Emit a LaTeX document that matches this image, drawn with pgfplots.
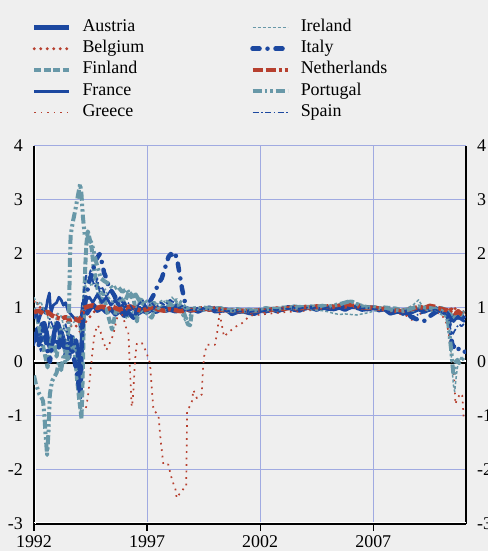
\documentclass[border=0pt]{standalone}
\usepackage{pgfplots}
\pgfplotsset{compat=1.18}
\usepackage{fontspec}
\setmainfont{Liberation Serif}
\definecolor{bg}{RGB}{239,239,239}
\definecolor{cblue}{RGB}{28,72,160}
\definecolor{cred}{RGB}{183,64,47}
\definecolor{cteal}{RGB}{104,152,168}
\definecolor{gridc}{RGB}{160,170,225}
\pgfplotsset{
 stAT/.style={cblue, line width=4.5bp},
 stBE/.style={cred, line width=3.2bp, line cap=round, dash pattern=on 0bp off 6.5bp},
 stFI/.style={cteal, line width=4bp, dash pattern=on 7bp off 2.5bp},
 stFR/.style={cblue, line width=2.7bp},
 stGR/.style={cred, line width=1.7bp, dash pattern=on 1.7bp off 4.8bp},
 stIE/.style={cteal, line width=1.5bp, dash pattern=on 3bp off 2bp},
 stIT/.style={cblue, line width=4.5bp, line cap=round, dash pattern=on 7bp off 8bp on 0bp off 8bp},
 stNL/.style={cred, line width=4.5bp, dash pattern=on 10bp off 3bp on 10bp off 3bp on 3bp off 3bp},
 stPT/.style={cteal, line width=4bp, dash pattern=on 9bp off 3bp on 2.5bp off 3bp on 2.5bp off 3bp},
 stES/.style={cblue, line width=1.7bp, dash pattern=on 6bp off 2.5bp on 1.5bp off 2.5bp},
}
\begin{document}
\begin{tikzpicture}
\fill[bg] (-34bp,-27bp) rectangle (454bp,524bp);
\begin{axis}[
  scale only axis, width=432bp, height=378bp,
  at={(0,0)}, anchor=south west,
  xmin=1992, xmax=2011.1, ymin=-3, ymax=4,
  axis x line*=bottom, axis y line*=box,
  axis line style={black, line width=1.3bp},
  xtick={1992,1997,2002,2007}, xticklabels={1992,1997,2002,2007},
  ytick={-3,-2,-1,0,1,2,3,4}, yticklabels={-3,-2,-1,0,1,2,3,4},
  tick align=outside, major tick length=7bp,
  ytick style={draw=none},
  xtick style={black, line width=1.3bp},
  grid=major, grid style={gridc, line width=1bp},
  tick label style={font=\fontsize{18}{21}\selectfont, text=black},
  yticklabel style={inner sep=0pt, xshift=-4bp},
  xticklabel style={inner sep=0pt, anchor=north, yshift=-4bp},
  every axis plot/.append style={line join=round, no markers},
  legend columns=2, legend cell align=left,
  legend image code/.code={\draw[#1] (0bp,0bp) -- (35bp,0bp);},
  legend style={draw=none, fill=none, inner sep=0pt, outer sep=0pt,
    at={(axis description cs:-0.00463,1.3348)}, anchor=north west,
    row sep=5.25bp, font=\fontsize{18}{21}\selectfont,
    nodes={inner sep=0pt, text height=12bp, text depth=4bp},
    /tikz/every odd column/.append style={column sep=11bp},
    /tikz/every even column/.append style={column sep=106bp}},
]
\draw[white, line width=1.7bp] ([xshift=1.6bp]rel axis cs:0,0) -- ([xshift=1.6bp]rel axis cs:0,1);
\draw[white, line width=1.7bp] ([yshift=1.6bp]rel axis cs:0,0) -- ([yshift=1.6bp]rel axis cs:1,0);
\draw[white, line width=2.2bp] ([yshift=0.8bp]axis cs:1992,0) -- ([yshift=0.8bp]axis cs:2011.1,0);
\draw[black, line width=1.6bp] ([yshift=-1.2bp]axis cs:1992,0) -- ([yshift=-1.2bp]axis cs:2011.1,0);

% Austria
\addplot[stAT, forget plot] coordinates {
(1992.00,0.55)(1992.08,0.40)(1992.15,0.62)(1992.25,0.50)(1992.35,0.70)(1992.45,0.72)(1992.55,0.55)(1992.65,0.35)(1992.75,0.20)(1992.85,0.45)(1992.95,0.65)(1993.05,0.72)(1993.15,0.60)(1993.25,0.50)(1993.35,0.35)(1993.45,0.20)(1993.55,0.08)(1993.62,0.35)(1993.70,0.45)(1993.78,0.25)(1993.86,0.40)(1993.94,0.15)(1994.00,-0.35)(1994.04,-0.65)(1994.08,-0.30)(1994.12,0.40)(1994.18,0.85)(1994.25,0.95)(1994.35,0.90)(1994.50,1.00)(1994.65,1.05)(1994.80,0.95)(1995.00,1.00)(1995.20,0.92)(1995.40,0.98)(1995.60,0.88)(1995.80,0.95)(1996.00,0.85)(1996.20,0.90)(1996.40,0.82)(1996.60,0.90)(1996.80,0.95)(1997.00,0.92)(1997.20,0.97)(1997.40,0.93)(1997.60,0.98)(1997.80,0.95)(1998.00,0.97)(1998.25,0.94)(1998.50,0.96)(1998.75,0.98)
(1999.00,0.98)(1999.25,0.935)(1999.50,0.98)(1999.75,1.005)(2000.00,0.94)(2000.25,0.95)(2000.50,0.97)(2000.75,0.89)(2001.00,0.93)(2001.25,0.94)(2001.50,0.91)(2001.75,0.895)(2002.00,0.95)(2002.25,0.94)(2002.50,0.98)(2002.75,0.94)(2003.00,0.98)(2003.25,1.015)(2003.50,0.97)(2003.75,0.955)(2004.00,1.01)(2004.25,1.0)(2004.50,0.97)(2004.75,1.02)(2005.00,0.99)(2005.25,0.98)(2005.50,1.01)(2005.75,0.97)(2006.00,1.02)(2006.25,1.02)(2006.50,0.97)(2006.75,0.985)(2007.00,1.01)(2007.25,0.96)(2007.50,0.98)(2007.75,0.90)(2008.00,0.93)(2008.25,0.945)(2008.50,0.89)(2008.75,0.935)(2009.00,0.98)(2009.25,0.935)(2009.50,0.98)(2009.75,0.995)(2010.00,0.94)(2010.25,0.89)
(2010.35,0.85)(2010.45,0.78)(2010.55,0.84)(2010.65,0.88)(2010.75,0.82)(2010.85,0.87)(2010.95,0.83)(2011.05,0.80)};
% Belgium
\addplot[stBE, forget plot] coordinates {
(1992.00,1.12)(1992.10,1.05)(1992.20,1.10)(1992.30,0.98)(1992.40,0.92)(1992.50,0.95)(1992.60,0.88)(1992.70,0.82)(1992.80,0.86)(1992.90,0.90)(1993.00,0.87)(1993.20,0.84)(1993.40,0.80)(1993.60,0.66)(1993.80,0.70)(1993.95,0.62)(1994.05,0.55)(1994.15,0.66)(1994.30,0.75)(1994.50,0.85)(1994.70,0.95)(1994.90,1.02)(1995.10,1.05)(1995.30,0.98)(1995.50,1.03)(1995.70,0.96)(1995.90,1.01)(1996.10,0.95)(1996.30,1.00)(1996.50,1.05)(1996.70,1.00)(1996.90,0.95)(1997.10,1.00)(1997.30,1.04)(1997.50,0.98)(1997.70,1.02)(1997.90,0.97)(1998.10,1.01)(1998.30,0.99)(1998.50,1.03)(1998.75,0.98)
(1999.00,1.0)(1999.25,0.975)(1999.50,0.96)(1999.75,0.995)(2000.00,1.01)(2000.25,0.95)(2000.50,0.97)(2000.75,0.97)(2001.00,0.92)(2001.25,0.96)(2001.50,0.94)(2001.75,0.975)(2002.00,0.96)(2002.25,0.94)(2002.50,0.98)(2002.75,1.0)(2003.00,0.98)(2003.25,1.005)(2003.50,0.97)(2003.75,1.005)(2004.00,1.03)(2004.25,1.02)(2004.50,1.04)(2004.75,0.99)(2005.00,1.02)(2005.25,1.05)(2005.50,1.03)(2005.75,1.03)(2006.00,1.06)(2006.25,1.02)(2006.50,1.03)(2006.75,0.985)(2007.00,1.01)(2007.25,1.01)(2007.50,0.98)(2007.75,0.99)(2008.00,0.95)(2008.25,0.925)(2008.50,0.97)(2008.75,0.975)(2009.00,0.98)(2009.25,1.015)(2009.50,1.0)(2009.75,1.025)(2010.00,1.0)(2010.25,0.97)
(2010.35,0.95)(2010.45,0.90)(2010.55,0.96)(2010.65,1.00)(2010.75,0.93)(2010.85,0.97)(2010.95,0.92)(2011.05,0.95)};
% Finland
\addplot[stFI, forget plot] coordinates {
(1992.00,1.00)(1992.10,0.90)(1992.20,0.70)(1992.30,0.50)(1992.40,0.30)(1992.50,0.10)(1992.60,-0.10)(1992.70,0.20)(1992.80,0.50)(1992.90,0.30)(1993.00,0.10)(1993.10,0.40)(1993.20,0.60)(1993.30,0.35)(1993.40,0.15)(1993.50,0.05)(1993.60,0.30)(1993.70,0.50)(1993.80,0.20)(1993.90,-0.30)(1994.00,-0.70)(1994.06,-0.90)(1994.10,-1.05)(1994.14,-0.50)(1994.18,0.30)(1994.22,1.20)(1994.27,1.80)(1994.32,2.20)(1994.38,2.42)(1994.45,2.30)(1994.55,2.10)(1994.65,1.70)(1994.75,1.50)(1994.85,1.25)(1994.95,1.10)(1995.05,1.30)(1995.15,1.10)(1995.25,0.90)(1995.35,0.75)(1995.45,0.60)(1995.55,0.80)(1995.65,1.00)(1995.80,1.20)(1996.00,1.10)(1996.20,1.30)(1996.40,1.20)(1996.55,0.75)(1996.70,1.20)(1996.85,1.05)(1997.00,0.90)(1997.20,0.82)(1997.40,1.00)(1997.60,1.05)(1997.80,0.95)(1998.00,1.08)(1998.20,1.02)(1998.40,1.10)(1998.60,0.95)(1998.80,0.70)(1998.90,0.68)
(1999.00,0.98)(1999.25,1.005)(1999.50,0.97)(1999.75,0.975)(2000.00,0.99)(2000.25,1.0)(2000.50,0.96)(2000.75,0.97)(2001.00,0.98)(2001.25,0.95)(2001.50,0.97)(2001.75,0.945)(2002.00,0.97)(2002.25,1.0)(2002.50,0.98)(2002.75,0.97)(2003.00,1.01)(2003.25,0.995)(2003.50,1.03)(2003.75,1.015)(2004.00,1.01)(2004.25,1.03)(2004.50,1.0)(2004.75,1.04)(2005.00,1.02)(2005.25,1.03)(2005.50,1.05)(2005.75,1.09)(2006.00,1.12)(2006.25,1.07)(2006.50,1.04)(2006.75,1.015)(2007.00,1.02)(2007.25,0.99)(2007.50,1.01)(2007.75,1.0)(2008.00,0.99)(2008.25,0.955)(2008.50,0.97)(2008.75,0.965)(2009.00,1.01)(2009.25,1.005)(2009.50,1.03)(2009.75,0.995)(2010.00,1.0)(2010.25,0.96)
(2010.35,0.92)(2010.45,0.85)(2010.55,0.80)(2010.65,0.85)(2010.75,0.90)(2010.85,0.86)(2010.95,0.92)(2011.05,0.90)};
% France
\addplot[stFR, forget plot] coordinates {
(1992.00,0.80)(1992.10,0.95)(1992.20,0.75)(1992.30,0.88)(1992.40,1.00)(1992.50,0.90)(1992.60,1.15)(1992.68,1.28)(1992.75,0.90)(1992.85,1.05)(1993.00,1.10)(1993.10,1.20)(1993.20,1.15)(1993.30,1.05)(1993.40,1.10)(1993.50,0.95)(1993.60,0.90)(1993.70,0.85)(1993.80,0.80)(1993.90,0.82)(1994.00,0.78)(1994.05,0.60)(1994.10,0.90)(1994.15,1.10)(1994.20,1.00)(1994.30,1.15)(1994.45,1.20)(1994.60,1.10)(1994.80,1.25)(1995.00,1.10)(1995.20,1.20)(1995.40,1.05)(1995.60,1.15)(1995.80,1.00)(1996.00,1.10)(1996.20,0.95)(1996.40,1.00)(1996.60,0.92)(1996.80,1.00)(1997.00,0.95)(1997.25,1.00)(1997.50,0.96)(1997.75,1.02)(1998.00,0.98)(1998.25,1.03)(1998.50,0.97)(1998.75,1.00)
(1999.00,0.97)(1999.25,0.995)(1999.50,0.99)(1999.75,0.955)(2000.00,1.0)(2000.25,0.97)(2000.50,0.95)(2000.75,0.96)(2001.00,0.94)(2001.25,0.92)(2001.50,0.95)(2001.75,0.935)(2002.00,0.95)(2002.25,0.97)(2002.50,0.95)(2002.75,0.98)(2003.00,1.0)(2003.25,0.985)(2003.50,1.02)(2003.75,1.005)(2004.00,0.99)(2004.25,1.02)(2004.50,1.01)(2004.75,1.0)(2005.00,1.02)(2005.25,0.98)(2005.50,1.01)(2005.75,1.01)(2006.00,1.01)(2006.25,1.03)(2006.50,1.01)(2006.75,1.025)(2007.00,0.99)(2007.25,1.0)(2007.50,0.98)(2007.75,0.97)(2008.00,0.93)(2008.25,0.935)(2008.50,0.95)(2008.75,0.965)(2009.00,0.97)(2009.25,0.985)(2009.50,0.97)(2009.75,0.995)(2010.00,0.97)(2010.25,0.93)
(2010.35,0.88)(2010.45,0.80)(2010.55,0.75)(2010.65,0.80)(2010.75,0.85)(2010.85,0.80)(2010.95,0.77)(2011.05,0.75)};
% Greece
\addplot[stGR, forget plot] coordinates {
(1994.30,-0.85)(1994.38,-0.65)(1994.46,-0.35)(1994.55,0.05)(1994.65,0.45)(1994.75,0.62)(1994.83,0.68)(1994.95,0.55)(1995.05,0.40)(1995.20,0.22)(1995.35,0.35)(1995.50,0.50)(1995.62,0.72)(1995.72,0.88)(1995.82,0.95)(1995.95,0.82)(1996.08,0.62)(1996.17,0.55)(1996.22,0.10)(1996.27,-0.40)(1996.32,-0.83)(1996.37,-0.70)(1996.43,-0.25)(1996.49,0.15)(1996.55,0.35)(1996.77,0.35)(1996.95,0.20)(1997.13,-0.02)(1997.20,-0.45)(1997.28,-0.89)(1997.50,-0.98)(1997.60,-1.45)(1997.72,-1.90)(1997.94,-1.90)(1998.05,-2.10)(1998.16,-2.25)(1998.25,-2.35)(1998.31,-2.52)(1998.42,-2.45)(1998.53,-2.40)(1998.68,-2.30)(1998.73,-2.30)(1998.75,-1.60)(1998.77,-0.90)(1998.85,-0.85)(1998.98,-0.73)(1999.05,-0.52)(1999.20,-0.67)(1999.42,-0.60)(1999.46,-0.20)(1999.52,0.10)(1999.64,0.32)(2000.00,0.32)(2000.10,0.55)(2000.20,0.90)(2000.30,0.70)(2000.40,0.47)(2000.60,0.55)(2000.90,0.65)(2001.20,0.72)(2001.50,0.84)(2001.75,0.88)(2002.00,0.87)(2002.25,0.89)(2002.50,0.90)(2002.75,0.91)(2003.00,0.92)(2003.25,0.93)(2003.50,0.93)(2003.75,0.94)(2004.00,0.95)(2004.25,0.96)(2004.50,0.97)(2004.75,0.98)(2005.00,0.99)(2005.25,0.98)(2005.50,0.99)(2005.75,1.00)(2006.00,1.01)(2006.25,0.99)(2006.50,0.98)(2006.75,0.99)(2007.00,0.98)(2007.25,0.97)(2007.50,0.95)(2007.75,0.93)(2008.00,0.91)(2008.25,0.88)(2008.50,0.85)(2008.65,0.80)(2008.80,0.75)(2008.95,0.85)(2009.10,0.90)(2009.25,0.95)(2009.50,0.97)(2009.75,0.93)(2010.00,0.88)(2010.15,0.80)(2010.25,0.70)(2010.33,0.56)(2010.40,0.30)(2010.46,0.10)(2010.50,0.00)(2010.58,-0.30)(2010.63,-0.78)(2010.68,-0.72)(2010.73,-0.67)(2010.80,-0.62)(2010.85,-0.58)(2010.93,-0.62)(2010.97,-0.85)(2011.00,-1.08)};
% Ireland
\addplot[stIE, forget plot] coordinates {
(1992.00,1.20)(1992.15,1.05)(1992.30,1.12)(1992.45,0.95)(1992.60,0.85)(1992.75,0.60)(1992.90,0.70)(1993.05,0.90)(1993.20,0.85)(1993.35,0.60)(1993.50,0.50)(1993.65,0.70)(1993.80,0.75)(1993.95,0.85)(1994.05,0.50)(1994.15,1.00)(1994.25,1.40)(1994.40,1.50)(1994.55,1.40)(1994.70,1.60)(1994.85,1.35)(1995.00,1.25)(1995.15,1.35)(1995.30,1.20)(1995.50,1.10)(1995.70,0.90)(1995.90,1.00)(1996.10,0.80)(1996.30,0.90)(1996.50,1.00)(1996.70,0.90)(1996.90,1.00)(1997.10,0.95)(1997.30,0.90)(1997.50,1.10)(1997.70,1.15)(1997.90,1.05)(1998.10,1.20)(1998.30,1.10)(1998.50,0.90)(1998.70,0.75)(1998.85,0.85)
(1999.00,0.95)(1999.25,0.97)(1999.50,0.96)(1999.75,0.98)(2000.00,0.95)(2000.25,0.94)(2000.50,0.93)(2000.75,0.92)(2001.00,0.92)(2001.25,0.91)(2001.50,0.92)(2001.75,0.93)(2002.00,0.92)(2002.25,0.94)(2002.50,0.95)(2002.75,0.96)(2003.00,0.97)(2003.25,0.98)(2003.50,0.97)(2003.75,0.99)(2004.00,0.98)(2004.25,0.97)(2004.50,0.96)(2004.75,0.95)(2005.00,0.93)(2005.25,0.90)(2005.50,0.88)(2005.75,0.89)(2006.00,0.88)(2006.25,0.87)(2006.50,0.89)(2006.75,0.91)(2007.00,0.94)(2007.25,0.96)(2007.50,0.95)(2007.75,0.93)(2008.00,0.94)(2008.25,0.97)(2008.50,1.0)(2008.75,1.05)(2009.00,1.15)(2009.25,0.98)(2009.50,0.94)(2009.75,0.92)(2010.00,0.88)(2010.25,0.82)
(2010.35,0.60)(2010.42,0.30)(2010.48,-0.10)(2010.55,-0.45)(2010.60,-0.55)(2010.66,-0.30)(2010.72,-0.10)(2010.80,0.00)(2010.90,0.10)(2011.00,0.05)(2011.05,0.08)};
% Italy
\addplot[stIT, forget plot] coordinates {
(1992.00,0.40)(1992.10,0.55)(1992.20,0.30)(1992.30,0.45)(1992.40,0.60)(1992.50,0.50)(1992.60,0.20)(1992.70,0.00)(1992.80,0.30)(1992.90,0.50)(1993.00,0.40)(1993.10,0.25)(1993.20,0.55)(1993.30,0.35)(1993.40,0.10)(1993.50,0.30)(1993.60,0.55)(1993.70,0.20)(1993.80,0.00)(1993.90,-0.20)(1994.00,-0.50)(1994.06,-0.10)(1994.15,0.70)(1994.30,1.20)(1994.45,1.50)(1994.60,1.70)(1994.75,1.90)(1994.90,2.00)(1995.00,1.85)(1995.10,1.65)(1995.20,1.55)(1995.30,1.40)(1995.45,1.30)(1995.60,1.20)(1995.75,1.05)(1995.90,1.00)(1996.05,0.88)(1996.20,0.95)(1996.35,0.82)(1996.50,0.90)(1996.65,1.00)(1996.80,0.95)(1996.95,1.05)(1997.10,1.10)(1997.30,1.25)(1997.50,1.45)(1997.65,1.55)(1997.80,1.75)(1997.95,1.95)(1998.05,2.00)(1998.15,1.95)(1998.25,2.00)(1998.35,1.85)(1998.45,1.60)(1998.55,1.35)(1998.65,1.15)(1998.75,1.00)(1998.90,0.95)
(1999.00,0.96)(1999.25,0.99)(1999.50,0.97)(1999.75,1.0)(2000.00,0.98)(2000.25,0.95)(2000.50,0.96)(2000.75,0.93)(2001.00,0.94)(2001.25,0.92)(2001.50,0.94)(2001.75,0.92)(2002.00,0.95)(2002.25,0.96)(2002.50,0.94)(2002.75,0.98)(2003.00,0.97)(2003.25,1.0)(2003.50,0.98)(2003.75,1.01)(2004.00,0.99)(2004.25,1.02)(2004.50,0.98)(2004.75,1.01)(2005.00,0.99)(2005.25,1.0)(2005.50,0.98)(2005.75,1.02)(2006.00,1.01)(2006.25,0.99)(2006.50,1.01)(2006.75,0.98)(2007.00,1.0)(2007.25,0.97)(2007.50,0.96)(2007.75,0.94)(2008.00,0.92)(2008.25,0.90)(2008.50,0.88)(2008.75,0.82)(2009.00,0.78)(2009.25,0.76)(2009.50,0.85)(2009.75,0.92)(2010.00,0.95)(2010.25,0.90)
(2010.35,0.75)(2010.42,0.55)(2010.48,0.35)(2010.55,0.28)(2010.62,0.30)(2010.70,0.22)(2010.80,0.25)(2010.90,0.20)(2011.00,0.18)(2011.05,0.19)};
% Netherlands
\addplot[stNL, forget plot] coordinates {
(1992.00,0.92)(1992.20,0.95)(1992.40,0.90)(1992.60,0.93)(1992.80,0.86)(1993.00,0.82)(1993.20,0.80)(1993.40,0.83)(1993.60,0.78)(1993.80,0.80)(1994.00,0.76)(1994.10,0.85)(1994.20,1.00)(1994.40,1.03)(1994.60,1.05)(1994.80,1.00)(1995.00,1.03)(1995.25,0.98)(1995.50,1.02)(1995.75,0.97)(1996.00,1.00)(1996.25,1.03)(1996.50,0.98)(1996.75,0.95)(1997.00,0.98)(1997.25,1.02)(1997.50,0.97)(1997.75,0.95)(1998.00,0.98)(1998.25,0.96)(1998.50,0.94)(1998.75,0.97)
(1999.00,0.96)(1999.25,0.98)(1999.50,1.0)(1999.75,0.97)(2000.00,0.99)(2000.25,0.97)(2000.50,0.96)(2000.75,0.95)(2001.00,0.94)(2001.25,0.95)(2001.50,0.93)(2001.75,0.95)(2002.00,0.96)(2002.25,0.95)(2002.50,0.97)(2002.75,0.99)(2003.00,0.98)(2003.25,1.0)(2003.50,1.01)(2003.75,0.99)(2004.00,1.02)(2004.25,1.0)(2004.50,1.03)(2004.75,1.01)(2005.00,1.03)(2005.25,1.02)(2005.50,1.04)(2005.75,1.03)(2006.00,1.05)(2006.25,1.04)(2006.50,1.02)(2006.75,1.0)(2007.00,1.01)(2007.25,0.99)(2007.50,0.98)(2007.75,0.96)(2008.00,0.95)(2008.25,0.94)(2008.50,0.96)(2008.75,0.99)(2009.00,1.02)(2009.25,1.0)(2009.50,1.04)(2009.75,1.02)(2010.00,0.98)(2010.25,0.96)
(2010.35,0.93)(2010.45,0.97)(2010.55,0.92)(2010.65,0.90)(2010.75,0.94)(2010.85,0.90)(2010.95,0.88)(2011.05,0.90)};
% Portugal
\addplot[stPT, forget plot] coordinates {
(1992.00,-0.25)(1992.08,-0.40)(1992.16,-0.50)(1992.24,-0.60)(1992.32,-0.65)(1992.40,-0.72)(1992.46,-1.00)(1992.52,-1.40)(1992.58,-1.72)(1992.64,-1.30)(1992.70,-0.60)(1992.80,-0.35)(1992.90,-0.28)(1993.00,-0.20)(1993.10,0.00)(1993.20,-0.15)(1993.30,0.10)(1993.40,0.00)(1993.48,0.30)(1993.53,0.70)(1993.56,1.20)(1993.59,1.90)(1993.62,2.35)(1993.72,2.60)(1993.82,2.80)(1993.95,3.10)(1994.04,3.30)(1994.10,3.10)(1994.16,2.70)(1994.25,2.32)(1994.40,2.30)(1994.55,2.20)(1994.75,1.85)(1994.95,1.55)(1995.10,1.50)(1995.30,1.45)(1995.50,1.35)(1995.70,1.40)(1995.90,1.30)(1996.10,1.35)(1996.30,1.20)(1996.50,1.25)(1996.70,1.10)(1996.90,1.15)(1997.10,1.05)(1997.30,1.10)(1997.50,1.00)(1997.70,1.08)(1997.90,1.12)(1998.10,1.05)(1998.30,1.15)(1998.50,1.10)(1998.70,1.00)(1998.90,0.97)
(1999.00,1.0)(1999.25,0.98)(1999.50,1.01)(1999.75,0.99)(2000.00,1.0)(2000.25,0.98)(2000.50,0.97)(2000.75,0.95)(2001.00,0.96)(2001.25,0.94)(2001.50,0.96)(2001.75,0.95)(2002.00,0.96)(2002.25,0.97)(2002.50,0.99)(2002.75,0.98)(2003.00,1.0)(2003.25,1.01)(2003.50,1.0)(2003.75,1.02)(2004.00,1.01)(2004.25,1.03)(2004.50,1.02)(2004.75,1.04)(2005.00,1.02)(2005.25,1.05)(2005.50,1.07)(2005.75,1.10)(2006.00,1.13)(2006.25,1.08)(2006.50,1.03)(2006.75,1.01)(2007.00,1.02)(2007.25,1.0)(2007.50,0.98)(2007.75,0.97)(2008.00,0.95)(2008.25,0.94)(2008.50,0.96)(2008.75,1.0)(2009.00,1.03)(2009.25,1.01)(2009.50,1.0)(2009.75,0.98)(2010.00,0.95)(2010.25,0.85)
(2010.32,0.70)(2010.40,0.40)(2010.45,0.20)(2010.50,-0.05)(2010.55,-0.25)(2010.60,-0.10)(2010.65,0.00)(2010.72,0.04)(2010.80,-0.02)(2010.90,0.05)(2011.00,0.07)(2011.05,0.06)};
% Spain
\addplot[stES, forget plot] coordinates {
(1992.00,0.30)(1992.10,0.50)(1992.20,0.35)(1992.30,0.20)(1992.40,0.45)(1992.50,0.65)(1992.60,0.55)(1992.70,0.80)(1992.80,0.70)(1992.90,0.60)(1993.00,0.75)(1993.10,0.50)(1993.20,0.30)(1993.30,0.60)(1993.40,0.70)(1993.50,0.45)(1993.60,0.20)(1993.70,0.50)(1993.80,0.40)(1993.90,0.10)(1994.00,-0.30)(1994.05,0.00)(1994.10,0.80)(1994.20,1.30)(1994.30,1.60)(1994.40,1.55)(1994.50,1.70)(1994.60,1.50)(1994.70,1.40)(1994.80,1.55)(1994.90,1.30)(1995.00,1.40)(1995.20,1.20)(1995.40,1.35)(1995.60,1.10)(1995.80,1.20)(1996.00,1.00)(1996.20,1.10)(1996.40,0.95)(1996.60,1.05)(1996.80,1.15)(1997.00,1.00)(1997.20,1.10)(1997.40,1.00)(1997.60,1.10)(1997.80,1.05)(1998.00,1.15)(1998.20,1.10)(1998.40,1.00)(1998.60,1.05)(1998.80,0.95)
(1999.00,0.97)(1999.25,0.96)(1999.50,0.99)(1999.75,0.97)(2000.00,0.96)(2000.25,0.97)(2000.50,0.94)(2000.75,0.95)(2001.00,0.93)(2001.25,0.94)(2001.50,0.92)(2001.75,0.94)(2002.00,0.93)(2002.25,0.95)(2002.50,0.97)(2002.75,0.96)(2003.00,0.99)(2003.25,0.98)(2003.50,1.0)(2003.75,0.99)(2004.00,1.01)(2004.25,0.99)(2004.50,1.01)(2004.75,0.99)(2005.00,1.01)(2005.25,0.99)(2005.50,1.0)(2005.75,1.02)(2006.00,1.0)(2006.25,1.01)(2006.50,0.99)(2006.75,1.0)(2007.00,0.98)(2007.25,0.97)(2007.50,0.95)(2007.75,0.93)(2008.00,0.91)(2008.25,0.90)(2008.50,0.88)(2008.75,0.85)(2009.00,0.88)(2009.25,0.92)(2009.50,0.95)(2009.75,0.97)(2010.00,0.93)(2010.25,0.88)
(2010.35,0.80)(2010.42,0.60)(2010.50,0.50)(2010.60,0.58)(2010.70,0.65)(2010.80,0.70)(2010.90,0.66)(2011.00,0.70)(2011.05,0.72)};

\addlegendimage{stAT}\addlegendentry{Austria}
\addlegendimage{stIE}\addlegendentry{Ireland}
\addlegendimage{stBE}\addlegendentry{Belgium}
\addlegendimage{stIT}\addlegendentry{Italy}
\addlegendimage{stFI}\addlegendentry{Finland}
\addlegendimage{stNL}\addlegendentry{Netherlands}
\addlegendimage{stFR}\addlegendentry{France}
\addlegendimage{stPT}\addlegendentry{Portugal}
\addlegendimage{stGR}\addlegendentry{Greece}
\addlegendimage{stES}\addlegendentry{Spain}
\end{axis}
\begin{axis}[
  scale only axis, width=432bp, height=378bp,
  at={(0,0)}, anchor=south west,
  xmin=1992, xmax=2011.1, ymin=-3, ymax=4,
  hide x axis, axis y line*=right, axis line style={draw=none},
  ytick={-3,-2,-1,0,1,2,3,4}, yticklabels={-3,-2,-1,0,1,2,3,4},
  tick align=outside, major tick length=7bp, ytick style={draw=none},
  yticklabel style={font=\fontsize{18}{21}\selectfont, text=black, inner sep=0pt, xshift=4bp},
]
\end{axis}
\pgfresetboundingbox
\path[use as bounding box] (-34bp,-27bp) rectangle (454bp,524bp);
\end{tikzpicture}
\end{document}
